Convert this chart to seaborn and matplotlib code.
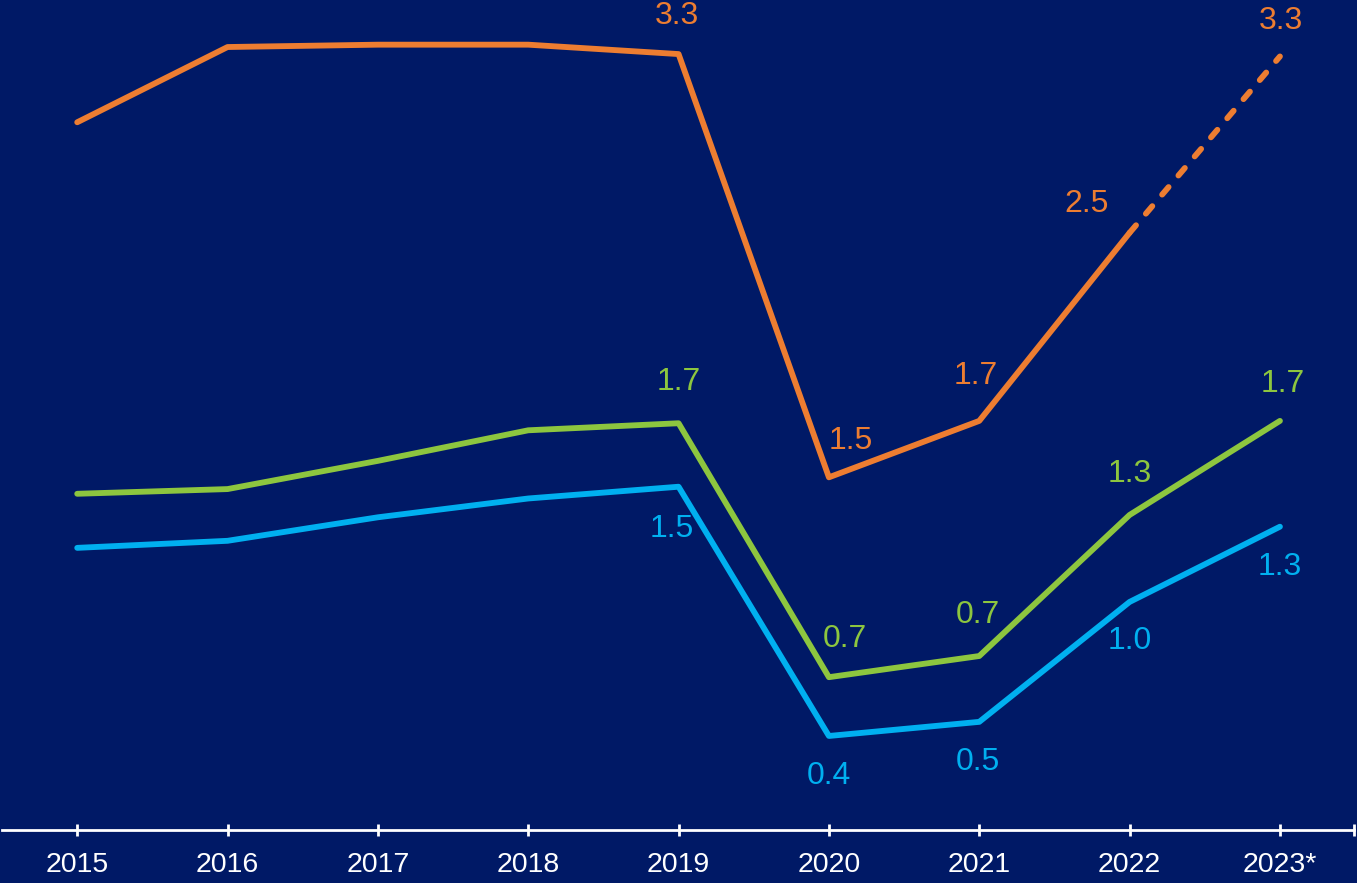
import pandas as pd
import seaborn as sns
import matplotlib
matplotlib.use("Agg")
from matplotlib import pyplot as plt

sns.set_style("white")
plt.rcParams['font.family'] = ['Liberation Sans', 'DejaVu Sans']

# data
years = ["2015", "2016", "2017", "2018", "2019", "2020", "2021", "2022", "2023*"]
orange_vals = [3.01, 3.33, 3.34, 3.34, 3.30, 1.50, 1.74, 2.54, 3.29]
green_vals = [1.43, 1.45, 1.57, 1.70, 1.73, 0.65, 0.74, 1.34, 1.74]
blue_vals = [1.20, 1.23, 1.33, 1.41, 1.46, 0.40, 0.46, 0.97, 1.29]

# labelled points: (year index, text, dx px, dy px)
orange_labels = [(4, "3.3", -2, 38), (5, "1.5", 22, 36), (6, "1.7", -4, 45),
                 (7, "2.5", -43, 29), (8, "3.3", 1, 35)]
green_labels = [(4, "1.7", 0, 41), (5, "0.7", 16, 38), (6, "0.7", -1, 41),
                (7, "1.3", 0, 41), (8, "1.7", 3, 37)]
blue_labels = [(4, "1.5", -7, -42), (5, "0.4", 0, -40), (6, "0.5", -1, -40),
               (7, "1.0", 0, -39), (8, "1.3", 0, -40)]

bg = "#001966"
orange = "#ED7D31"
green = "#8DC63F"
blue = "#00B0F0"

df = pd.DataFrame({"x": range(len(years)), "orange": orange_vals,
                   "green": green_vals, "blue": blue_vals})

fig = plt.figure(figsize=(13.57, 8.83), dpi=100)
fig.patch.set_facecolor(bg)
ax = fig.add_axes([0.0015, 0.06, 0.996, 0.94])
ax.set_facecolor(bg)

lw = 4.2
sns.lineplot(data=df.iloc[:8], x="x", y="orange", color=orange, lw=lw, ax=ax)
sns.lineplot(data=df.iloc[7:], x="x", y="orange", color=orange, lw=lw, ax=ax,
             linestyle=(0, (1.7, 2.6)), dash_capstyle="round")
sns.lineplot(data=df, x="x", y="green", color=green, lw=lw, ax=ax)
sns.lineplot(data=df, x="x", y="blue", color=blue, lw=lw, ax=ax)

for vals, labels, col in [(orange_vals, orange_labels, orange),
                          (green_vals, green_labels, green),
                          (blue_vals, blue_labels, blue)]:
    for i, txt, dx, dy in labels:
        ax.annotate(txt, (i, vals[i]), xytext=(dx, dy), textcoords="offset pixels",
                    ha="center", va="center", color=col, fontsize=23)

ax.set_xlim(-0.5, 8.49)
ax.set_ylim(0, 3.53)
ax.set_xticks(list(range(len(years))) + [8.49])
ax.set_xticklabels(years + [""])
ax.set_yticks([])
ax.set_xlabel("")
ax.set_ylabel("")
for s in ["top", "left", "right"]:
    ax.spines[s].set_visible(False)
ax.spines["bottom"].set_color("white")
ax.spines["bottom"].set_linewidth(2)
ax.tick_params(axis="x", direction="inout", length=9, width=2, color="white",
               labelcolor="white", labelsize=20.5, pad=11, bottom=True)

plt.savefig("out.png", facecolor=bg, dpi=100)
